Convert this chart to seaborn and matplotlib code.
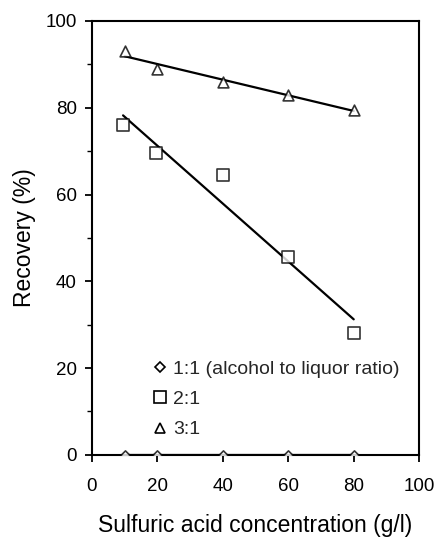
import numpy as np
import matplotlib
matplotlib.use("Agg")
import matplotlib.pyplot as plt
from matplotlib.lines import Line2D
from matplotlib.ticker import MultipleLocator
import seaborn as sns

# sulfuric acid concentration (g/l) and recovery (%)
acid_11 = [10, 20, 40, 60, 80]
rec_11 = [0, 0, 0, 0, 0]
acid_21 = [9.5, 19.5, 40, 60, 80]
rec_21 = [76, 69.5, 64.5, 45.5, 28]
acid_31 = [10, 20, 40, 60, 80]
rec_31 = [93, 89, 86, 83, 79.5]
labels = ["1:1 (alcohol to liquor ratio)", "2:1", "3:1"]

sns.set_style("ticks")
plt.rcParams['font.family'] = ['Liberation Sans', 'DejaVu Sans']

fig = plt.figure(figsize=(4.38, 5.37), dpi=100)
ax = fig.add_axes([0.21, 0.153, 0.747, 0.808])

line_kws = dict(color='black', lw=1.6)
sns.regplot(x=acid_11, y=rec_11, ci=None, marker='D', ax=ax,
            scatter_kws=dict(s=22, facecolors='white', edgecolors='black', linewidths=1.2, zorder=3),
            line_kws=line_kws)
sns.regplot(x=acid_21, y=rec_21, ci=None, marker='s', ax=ax,
            scatter_kws=dict(s=80, facecolors='white', edgecolors='black', linewidths=1.2, zorder=3),
            line_kws=line_kws)
sns.regplot(x=acid_31, y=rec_31, ci=None, marker='^', ax=ax,
            scatter_kws=dict(s=60, facecolors='white', edgecolors='black', linewidths=1.2, zorder=3),
            line_kws=line_kws)

ax.set_xlim(0, 100)
ax.set_ylim(0, 100)
ax.xaxis.set_major_locator(MultipleLocator(20))
ax.yaxis.set_major_locator(MultipleLocator(20))
ax.yaxis.set_minor_locator(MultipleLocator(10))
ax.tick_params(which='major', length=5, width=1.3, labelsize=13.5, color='black', labelcolor='black')
ax.tick_params(axis='y', which='major', pad=6)
ax.tick_params(axis='x', which='major', pad=12)
ax.tick_params(which='minor', length=3.6, width=1.0, color='black')
for sp in ax.spines.values():
    sp.set_color('black')
    sp.set_linewidth(1.5)

ax.set_xlabel("Sulfuric acid concentration (g/l)", fontsize=16.5, labelpad=13, color='black')
ax.set_ylabel("Recovery (%)", fontsize=16.5, labelpad=7, color='black')

handles = [
    Line2D([], [], marker='D', ls='', mfc='white', mec='black', ms=5, mew=1.2),
    Line2D([], [], marker='s', ls='', mfc='white', mec='black', ms=8, mew=1.2),
    Line2D([], [], marker='^', ls='', mfc='white', mec='black', ms=7, mew=1.2),
]
ax.legend(handles, labels, loc='center left', bbox_to_anchor=(0.155, 0.128),
          frameon=False, fontsize=14, handletextpad=0.15, handlelength=1.0,
          labelspacing=0.65, borderaxespad=0)

fig.savefig("out.png", dpi=100)
